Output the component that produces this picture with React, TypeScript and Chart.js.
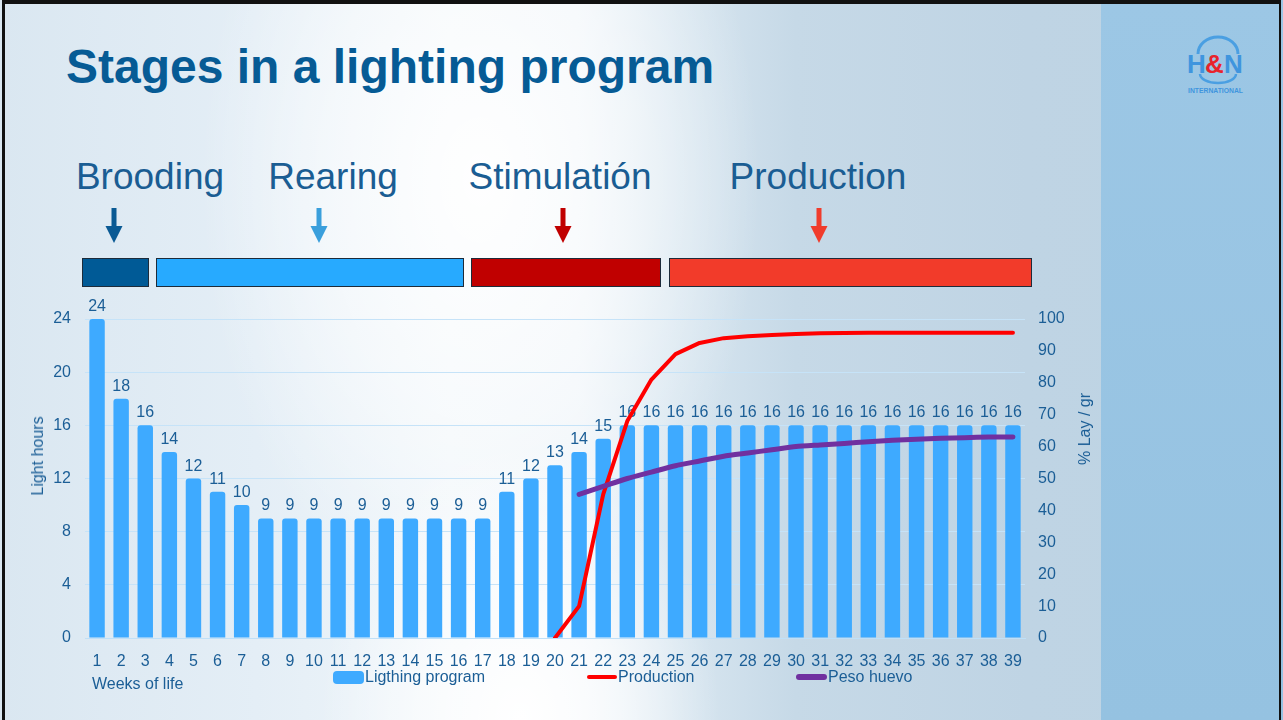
import React, { useEffect, useRef } from "react";
import { Chart, registerables } from "chart.js";

Chart.register(...registerables);

const weeks = ["1","2","3","4","5","6","7","8","9","10","11","12","13","14","15","16","17","18","19","20","21","22","23","24","25","26","27","28","29","30","31","32","33","34","35","36","37","38","39"];
const lightHours = [24,18,16,14,12,11,10,9,9,9,9,9,9,9,9,9,9,11,12,13,14,15,16,16,16,16,16,16,16,16,16,16,16,16,16,16,16,16,16];
// % lay, weeks 1..39 (starts at week 20)
const production = [null,null,null,null,null,null,null,null,null,null,null,null,null,null,null,null,null,null,null,0,10,45,68,81,89,92.5,94,94.6,95,95.3,95.5,95.6,95.7,95.7,95.7,95.7,95.7,95.7,95.7];
// egg weight g, weeks 1..39 (starts at week 21)
const eggWeight = [null,null,null,null,null,null,null,null,null,null,null,null,null,null,null,null,null,null,null,null,45,47.5,50,52,54,55.5,57,58,59,60,60.5,61,61.5,62,62.3,62.6,62.8,63,63];
const leftTicks = { min: 0, max: 24, step: 4 };
const rightTicks = { min: 0, max: 100, step: 10 };

const seriesNames = ["Ligthing program", "Production", "Peso huevo"];
const stages = [
  { name: "Brooding", center: 150, arrowX: 114, color: "#0a5a94", barColor: "#005a96", from: 82, to: 149 },
  { name: "Rearing", center: 333, arrowX: 319, color: "#3a9fdc", barColor: "#27aaff", from: 156, to: 464 },
  { name: "Stimulatión", center: 560, arrowX: 563, color: "#c00000", barColor: "#c00000", from: 471, to: 661 },
  { name: "Production", center: 818, arrowX: 819, color: "#f03c2c", barColor: "#f23b2a", from: 669, to: 1032 },
];

const FONT = '"Liberation Sans", Arial, Helvetica, sans-serif';
const TEXT = "#1b5e96";
const BAR = "#3eaaff";
const FS = 16;

const barLabelPlugin = {
  id: "barLabels",
  afterDatasetDraw(chart: any, args: any) {
    if (args.index !== 0) return;
    const ctx = chart.ctx;
    ctx.save();
    ctx.font = `${FS}px ${FONT}`;
    ctx.fillStyle = TEXT;
    ctx.textAlign = "center";
    ctx.textBaseline = "alphabetic";
    args.meta.data.forEach((el: any, i: number) => {
      const v = chart.data.datasets[0].data[i];
      ctx.fillText(String(v), el.x, el.y - 8);
    });
    ctx.restore();
  },
};

function ChartCanvas() {
  const ref = useRef<HTMLCanvasElement | null>(null);
  useEffect(() => {
    if (!ref.current) return;
    const chart = new Chart(ref.current, {
      data: {
        labels: weeks,
        datasets: [
          {
            type: "bar",
            label: seriesNames[0],
            data: lightHours,
            backgroundColor: BAR,
            borderRadius: 3,
            borderSkipped: "start",
            categoryPercentage: 1,
            barPercentage: 0.64,
            yAxisID: "y",
            order: 2,
          },
          {
            type: "line",
            label: seriesNames[1],
            data: production as any,
            borderColor: "#ff0000",
            borderWidth: 4,
            pointRadius: 0,
            tension: 0,
            borderCapStyle: "round",
            borderJoinStyle: "round",
            yAxisID: "y1",
            order: 1,
          },
          {
            type: "line",
            label: seriesNames[2],
            data: eggWeight as any,
            borderColor: "#7030a0",
            borderWidth: 5,
            pointRadius: 0,
            tension: 0.2,
            borderCapStyle: "round",
            borderJoinStyle: "round",
            yAxisID: "y1",
            order: 0,
          },
        ],
      },
      options: {
        animation: false,
        responsive: false,
        devicePixelRatio: 1,
        layout: { padding: { top: 24, left: 0, right: 0, bottom: 0 } },
        plugins: { legend: { display: false }, tooltip: { enabled: false } },
        scales: {
          x: {
            grid: { display: false },
            border: { display: true, color: "#bfe0f8" },
            ticks: { color: TEXT, font: { size: FS, family: FONT }, autoSkip: false, maxRotation: 0, padding: 6 },
            afterFit: (s: any) => { s.height = 82; },
          },
          y: {
            position: "left",
            min: leftTicks.min,
            max: leftTicks.max,
            grid: { color: "#c6e3f8", drawTicks: false },
            border: { display: false },
            ticks: { stepSize: leftTicks.step, color: TEXT, font: { size: FS, family: FONT }, padding: 14 },
            afterFit: (s: any) => { s.width = 85; },
          },
          y1: {
            position: "right",
            min: rightTicks.min,
            max: rightTicks.max,
            grid: { display: false, drawTicks: false },
            border: { display: false },
            ticks: { stepSize: rightTicks.step, color: TEXT, font: { size: FS, family: FONT }, padding: 13 },
            afterFit: (s: any) => { s.width = 75; },
          },
        },
      } as any,
      plugins: [barLabelPlugin],
    } as any);
    return () => chart.destroy();
  }, []);
  return <canvas ref={ref} width={1100} height={425} style={{ position: "absolute", left: 0, top: 295 }} />;
}

function Arrow({ x, color }: { x: number; color: string }) {
  return (
    <svg style={{ position: "absolute", left: x - 10, top: 208 }} width={20} height={36}>
      <rect x={7.5} y={0} width={5} height={19} fill={color} />
      <polygon points="1.5,18 18.5,18 10,35" fill={color} />
    </svg>
  );
}

function Logo() {
  return (
    <svg style={{ position: "absolute", left: 1180, top: 30 }} width={76} height={70}>
      <path d="M18 24 A 20 17 0 0 1 58 24" stroke="#4a9fe2" strokeWidth={3} fill="none" />
      <path d="M20 44 A 18 9 0 0 0 56 44" stroke="#4a9fe2" strokeWidth={2.5} fill="none" />
      <text x={7} y={43} fontFamily={FONT} fontWeight="bold" fontSize={26} fill="#3f95de" letterSpacing={-1.5}>H</text>
      <text x={25} y={43} fontFamily={FONT} fontWeight="bold" fontSize={26} fill="#e8232c" letterSpacing={-1.5}>&amp;</text>
      <text x={44} y={43} fontFamily={FONT} fontWeight="bold" fontSize={26} fill="#3f95de" letterSpacing={-1.5}>N</text>
      <text x={8} y={63} fontFamily={FONT} fontWeight="bold" fontSize={6.8} fill="#3f95de">INTERNATIONAL</text>
    </svg>
  );
}

const abs = (o: React.CSSProperties): React.CSSProperties => ({ position: "absolute", ...o });

export default function App() {
  return (
    <div
      style={{
        position: "fixed",
        left: 0,
        top: 0,
        width: 1283,
        height: 720,
        overflow: "hidden",
        fontFamily: FONT,
        background:
          "radial-gradient(ellipse 200px 280px at 520px 720px, rgba(255,255,255,1) 0%, rgba(255,255,255,0.6) 50%, rgba(255,255,255,0) 100%)," +
          "radial-gradient(ellipse 280px 440px at 480px 180px, rgba(255,255,255,0.95) 0%, rgba(255,255,255,0.5) 55%, rgba(255,255,255,0) 100%)," +
          "linear-gradient(90deg, #dae7f1 0%, #e4eef6 20%, #f0f6fa 35%, #eef4f9 45%, #d8e6f0 53%, #c6d9e7 62%, #bfd4e4 80%, #bdd3e3 100%)",
      }}
    >
      {/* right panel */}
      <div style={abs({ left: 1101, top: 0, width: 182, height: 720, background: "linear-gradient(180deg, #9cc7e5 0%, #95c2e1 100%)" })} />
      {/* frame */}
      <div style={abs({ left: 2, top: 0, width: 1279, height: 720, borderTop: "4px solid #111", borderLeft: "3px solid #111", borderRight: "2px solid #111", boxSizing: "border-box" })} />
      <Logo />
      <div style={abs({ left: 66, top: 43, fontSize: 48, fontWeight: "bold", color: "#065b95", lineHeight: 1, whiteSpace: "nowrap" })}>
        Stages in a lighting program
      </div>
      {stages.map((s) => (
        <React.Fragment key={s.name}>
          <div style={abs({ left: s.center, top: 158, transform: "translateX(-50%)", fontSize: 37, color: "#1a5d93", lineHeight: 1, whiteSpace: "nowrap" })}>
            {s.name}
          </div>
          <Arrow x={s.arrowX} color={s.color} />
          <div style={abs({ left: s.from, top: 258, width: s.to - s.from, height: 29, background: s.barColor, border: "1.5px solid #1d2b3a", boxSizing: "border-box" })} />
        </React.Fragment>
      ))}
      <ChartCanvas />
      {/* axis titles */}
      <div style={abs({ left: 38, top: 456, transform: "translate(-50%, -50%) rotate(-90deg)", fontSize: FS, color: TEXT, whiteSpace: "nowrap" })}>Light hours</div>
      <div style={abs({ left: 1085, top: 429, transform: "translate(-50%, -50%) rotate(-90deg)", fontSize: FS, color: TEXT, whiteSpace: "nowrap" })}>% Lay / gr</div>
      <div style={abs({ left: 92, top: 675, fontSize: FS, color: TEXT, lineHeight: "18px", whiteSpace: "nowrap" })}>Weeks of life</div>
      {/* legend */}
      <div style={abs({ left: 333, top: 671, width: 31, height: 13, borderRadius: 4, background: BAR })} />
      <div style={abs({ left: 365, top: 668, fontSize: FS, color: TEXT, lineHeight: "18px", whiteSpace: "nowrap" })}>{seriesNames[0]}</div>
      <div style={abs({ left: 587, top: 675, width: 30, height: 4, borderRadius: 2, background: "#ff0000" })} />
      <div style={abs({ left: 618, top: 668, fontSize: FS, color: TEXT, lineHeight: "18px", whiteSpace: "nowrap" })}>{seriesNames[1]}</div>
      <div style={abs({ left: 796, top: 674, width: 31, height: 6, borderRadius: 3, background: "#7030a0" })} />
      <div style={abs({ left: 828, top: 668, fontSize: FS, color: TEXT, lineHeight: "18px", whiteSpace: "nowrap" })}>{seriesNames[2]}</div>
    </div>
  );
}
